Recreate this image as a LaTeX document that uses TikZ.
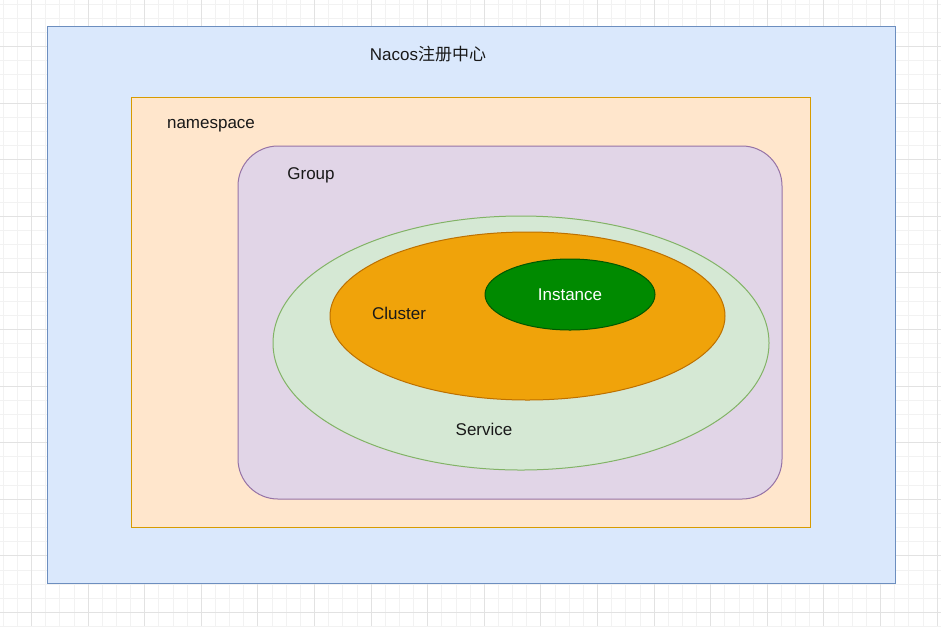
\documentclass[tikz,border=0pt]{standalone}
\usepackage{fontspec}
\setmainfont{Liberation Sans}
\newfontfamily\cjk{Noto Sans CJK SC}
\usetikzlibrary{shapes.geometric}

\definecolor{blueFill}{HTML}{DAE8FC}
\definecolor{blueLine}{HTML}{6C8EBF}
\definecolor{peachFill}{HTML}{FFE6CC}
\definecolor{peachLine}{HTML}{D79B00}
\definecolor{lilacFill}{HTML}{E1D5E7}
\definecolor{lilacLine}{HTML}{9673A6}
\definecolor{mintFill}{HTML}{D5E8D4}
\definecolor{mintLine}{HTML}{82B366}
\definecolor{amberFill}{HTML}{F0A30A}
\definecolor{amberLine}{HTML}{BD7000}
\definecolor{leafFill}{HTML}{008A00}
\definecolor{leafLine}{HTML}{005700}
\definecolor{gridMinor}{HTML}{F2F2F2}
\definecolor{gridMajor}{HTML}{E2E2E2}

\tikzset{
  box/.style={draw, line width=0.75pt, inner sep=0pt, outer sep=0pt},
  oval/.style={box, ellipse},
  lbl/.style={font=\fontsize{12.75}{15}\selectfont, text=black!90}
}

\begin{document}
\begin{tikzpicture}[x=0.75pt, y=-0.75pt]

  \useasboundingbox (0,0) rectangle (941,626);
  \fill[white] (0,0) rectangle (941,626);

  % background grid
  \foreach \i in {0,...,66}
    \draw[gridMinor, line width=0.5pt] ({3.1+14.15*\i},0) -- ({3.1+14.15*\i},626);
  \foreach \j in {0,...,44}
    \draw[gridMinor, line width=0.5pt] (0,{3.95+14.15*\j}) -- (941,{3.95+14.15*\j});
  \foreach \i in {0,...,16}
    \draw[gridMajor, line width=0.6pt] ({31.4+56.6*\i},0) -- ({31.4+56.6*\i},626);
  \foreach \j in {0,...,10}
    \draw[gridMajor, line width=0.6pt] (0,{46.4+56.6*\j}) -- (941,{46.4+56.6*\j});

  % Nacos registry
  \node[box, fill=blueFill, draw=blueLine, minimum width=636pt, minimum height=417.75pt] (nacos) at (471,304.5) {};
  \node[lbl] (nacosLbl) at (428,54) {Nacos{\cjk 注册中心}};

  % namespace
  \node[box, fill=peachFill, draw=peachLine, minimum width=509.25pt, minimum height=322.5pt] (ns) at (470.5,312) {};
  \node[lbl] (nsLbl) at (211,126) {namespace};

  % Group
  \node[box, fill=lilacFill, draw=lilacLine, rounded corners=30pt, minimum width=408pt, minimum height=264.75pt] (grp) at (510,322.5) {};
  \node[lbl] (grpLbl) at (311,175) {Group};

  % Service
  \node[oval, fill=mintFill, draw=mintLine, minimum width=372pt, minimum height=190.5pt] (svc) at (521,343) {};
  \node[lbl] (svcLbl) at (484,429) {Service};

  % Cluster
  \node[oval, fill=amberFill, draw=amberLine, minimum width=296.25pt, minimum height=126pt] (cls) at (527.5,316) {};
  \node[lbl] (clsLbl) at (399,313) {Cluster};

  % Instance
  \node[oval, fill=leafFill, draw=leafLine, minimum width=127.5pt, minimum height=53.25pt, lbl, text=white] (ins) at (570,294.5) {Instance};

\end{tikzpicture}
\end{document}
